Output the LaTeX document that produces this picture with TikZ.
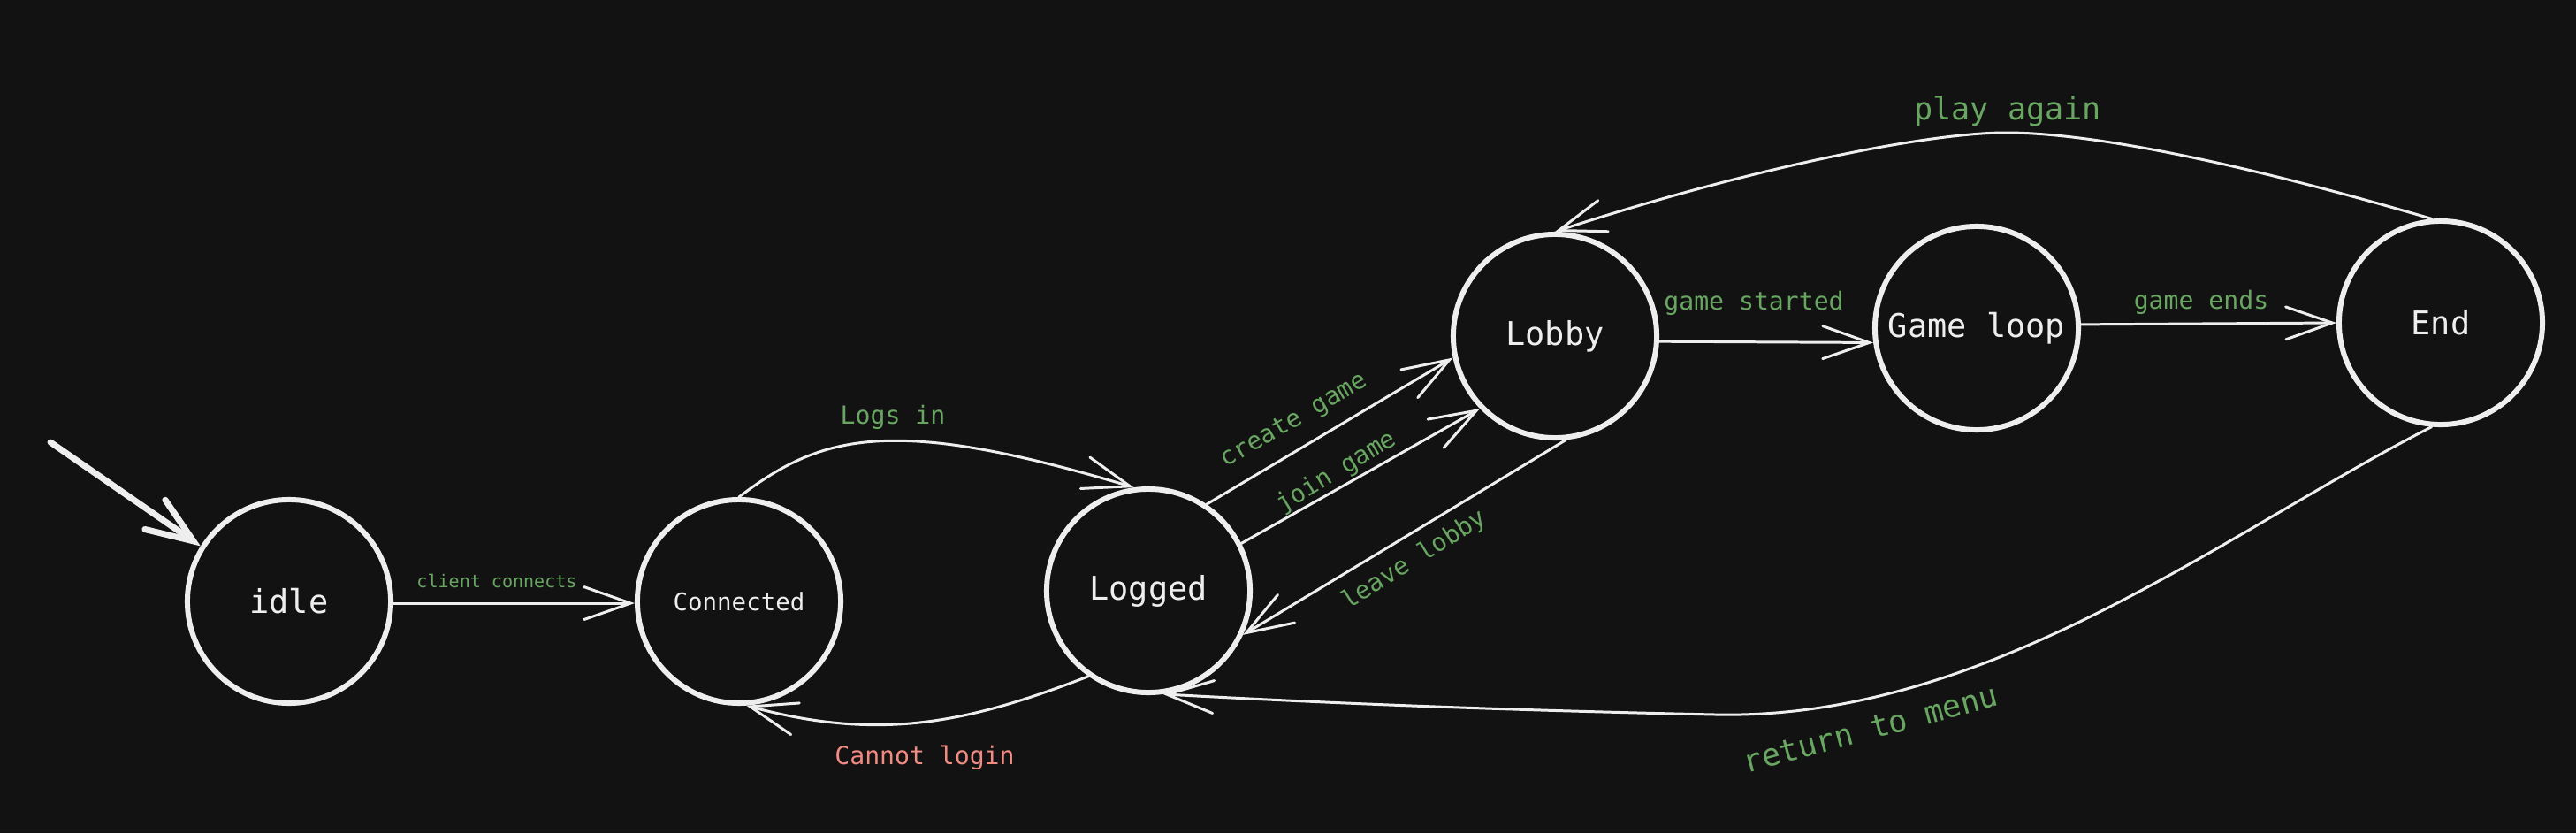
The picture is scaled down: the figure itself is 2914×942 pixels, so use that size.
\documentclass[tikz,border=0pt]{standalone}
\usepackage{fontspec}
\newfontfamily\monof{DejaVu Sans Mono}
\usetikzlibrary{arrows.meta}
\definecolor{bg}{HTML}{121212}
\definecolor{fg}{HTML}{EEEEEE}
\definecolor{lblgreen}{HTML}{68A662}
\definecolor{lblred}{HTML}{F28B82}
\tikzset{
  state/.style={circle, draw=fg, line width=1.7pt, minimum size=2.3cm, inner sep=0pt,
    text=fg, font=\monof\fontsize{10.5}{12}\selectfont},
  trans/.style={draw=fg, line width=0.85pt, line cap=round,
    -{Straight Barb[length=15pt,width=10.5pt,line cap=round]}},
  initarrow/.style={draw=fg, line width=2pt, line cap=round,
    -{Straight Barb[length=15pt,width=11.5pt,line cap=round]}},
  lbl/.style={text=lblgreen, font=\monof\fontsize{8}{9}\selectfont, inner sep=0pt},
  biglbl/.style={text=lblgreen, font=\monof\fontsize{10}{11}\selectfont, inner sep=0pt},
}
\begin{document}
\begin{tikzpicture}[x=0.01cm, y=-0.01cm]
\fill[bg] (0,0) rectangle (2914,942);
\useasboundingbox (0,0) rectangle (2914,942);

\node[state] (idle) at (327,680) {idle};
\node[state, font=\monof\fontsize{7.8}{9}\selectfont] (conn) at (836,680) {Connected};
\node[state] (logged) at (1299,668) {Logged};
\node[state] (lobby) at (1759,380) {Lobby};
\node[state] (game) at (2236,371) {Game loop};
\node[state] (end) at (2761,365) {End};

\coordinate (start) at (57,500);
\draw[initarrow] (start) -- (idle.148.8);

% idle -> Connected
\draw[trans] (idle.-1.5) -- (conn.181.5);
\node[lbl, font=\monof\fontsize{5.7}{7}\selectfont] (lcc) at (562,657) {client connects};

% Connected -> Logged
\draw[trans] (conn.90) .. controls (930,490) and (1010,470) .. (logged.98);
\node[lbl] (lli) at (1010,472) {Logs in};

% Logged -> Connected
\draw[trans] (logged.235) .. controls (1100,815) and (1000,840) .. (conn.274);
\node[lbl, text=lblred] (lcl) at (1046,857) {Cannot login};

% Logged -> Lobby
\draw[trans] (logged.56.4) -- (lobby.192);
\node[lbl, rotate=30] (lcg) at (1464,476) {create game};
\draw[trans] (logged.27.4) -- (lobby.224);
\node[lbl, rotate=31] (ljg) at (1512,534) {join game};

% Lobby -> Logged
\draw[trans] (lobby.276.5) -- (logged.335);
\node[lbl, rotate=32] (lll) at (1600,633) {leave lobby};

% Lobby -> Game loop
\draw[trans] (lobby.-3.4) -- (game.188.5);
\node[lbl] (lgs) at (1984,343) {game started};

% Game loop -> End
\draw[trans] (game.2) -- (end.180);
\node[lbl] (lge) at (2490,342) {game ends};

% End -> Lobby
\coordinate (pa) at (2269,150);
\draw[trans] (end.95) .. controls (2520,180) and (2360,150) .. (pa)
  .. controls (2180,150) and (1980,190) .. (lobby.90);
\node[biglbl] (lpa) at (2271,126) {play again};

% End -> Logged
\coordinate (rm) at (1940,808);
\draw[trans] (end.265) .. controls (2520,600) and (2250,815) .. (rm)
  .. controls (1700,803) and (1500,795) .. (logged.278);
\node[biglbl, rotate=15] (lrm) at (2116,824) {return to menu};
\end{tikzpicture}
\end{document}
